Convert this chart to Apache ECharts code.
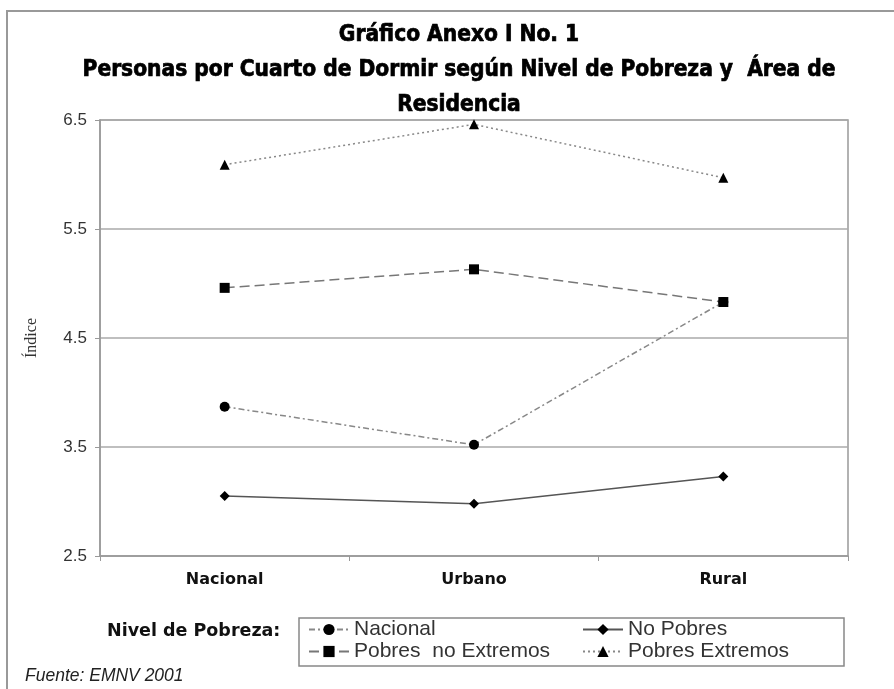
<!DOCTYPE html>
<html>
<head>
<meta charset="utf-8">
<script src="https://cdn.jsdelivr.net/npm/echarts@6/dist/echarts.min.js"></script>
<style>
html,body{margin:0;padding:0;background:#fff;}
#chart{width:894px;height:689px;}
</style>
</head>
<body>
<div id="chart"></div>
<script>
const categories = ['Nacional', 'Urbano', 'Rural'];
const seriesNames = ['Nacional', 'No Pobres', 'Pobres  no Extremos', 'Pobres Extremos'];
const nacional = [3.87, 3.52, 4.83];
const noPobres = [3.05, 2.98, 3.23];
const pobresNoExtremos = [4.96, 5.13, 4.83];
const pobresExtremos = [6.09, 6.46, 5.97];
const yTicks = [2.5, 3.5, 4.5, 5.5, 6.5];
const titleLines = ['Gráfico Anexo I No. 1', 'Personas por Cuarto de Dormir según Nivel de Pobreza y  Área de', 'Residencia'];

const chart = echarts.init(document.getElementById('chart'));
const titleFont = "'DejaVu Sans Condensed', 'Liberation Sans Narrow', sans-serif";
const legendText = {fontFamily: "'Liberation Sans', Arial, sans-serif", fontSize: 21, color: '#333'};

function mk(name, data, symbol, lineType, lineColor) {
  return {
    name: name, type: 'line', data: data, symbol: symbol, symbolSize: 10,
    itemStyle: {color: '#000'},
    lineStyle: {color: lineColor, width: 1.5, type: lineType},
    emphasis: {disabled: true}, animation: false
  };
}

const titleY = [35, 70, 105];
const titleGraphics = titleLines.map((t, i) => ({
  type: 'text', x: 459, y: titleY[i], silent: true,
  style: {text: t, fontFamily: titleFont, fontWeight: 'bold', fontSize: 22.5, fill: '#000',
    stroke: '#000', lineWidth: 0.7, align: 'center', verticalAlign: 'middle'}
}));

chart.setOption({
  animation: false,
  backgroundColor: '#fff',
  grid: {left: 100, right: 46, top: 120, bottom: 133, show: true, borderColor: '#999', borderWidth: 1.5},
  xAxis: {
    type: 'category', data: categories, boundaryGap: true,
    axisLine: {lineStyle: {color: '#999', width: 1.5}},
    axisTick: {show: true, length: 5, lineStyle: {color: '#999'}},
    axisLabel: {fontFamily: "'DejaVu Sans', sans-serif", fontWeight: 'bold', fontSize: 16, color: '#111', margin: 16}
  },
  yAxis: {
    type: 'value', min: yTicks[0], max: yTicks[yTicks.length - 1], interval: 1,
    name: 'Índice', nameLocation: 'middle', nameGap: 60, nameRotate: 90,
    nameTextStyle: {fontFamily: "'Liberation Serif', 'Times New Roman', serif", fontSize: 16, color: '#333'},
    axisLine: {show: true, lineStyle: {color: '#999', width: 1.5}},
    axisTick: {show: true, length: 5, lineStyle: {color: '#999'}},
    axisLabel: {fontFamily: "'Liberation Sans', Arial, sans-serif", fontSize: 17, color: '#333', margin: 13,
      formatter: v => v.toFixed(1)},
    splitLine: {lineStyle: {color: '#aaa', width: 1.5}}
  },
  legend: [
    {data: [seriesNames[0], seriesNames[2]], orient: 'vertical', left: 308, top: 619, padding: 0,
     itemWidth: 40, itemHeight: 14, itemGap: 1, textStyle: legendText, selectedMode: false},
    {data: [seriesNames[1], seriesNames[3]], orient: 'vertical', left: 582, top: 619, padding: 0,
     itemWidth: 40, itemHeight: 14, itemGap: 1, textStyle: legendText, selectedMode: false}
  ],
  graphic: [
    {type: 'rect', shape: {x: 7, y: 11, width: 910, height: 700}, style: {fill: 'none', stroke: '#999', lineWidth: 2}, silent: true},
    {type: 'rect', shape: {x: 299, y: 618, width: 545, height: 48}, style: {fill: 'none', stroke: '#888', lineWidth: 1.5}, silent: true},
    {type: 'text', left: 107, top: 622, style: {text: 'Nivel de Pobreza:', fontFamily: "'DejaVu Sans', sans-serif", fontWeight: 'bold', fontSize: 17.5, fill: '#111'}},
    {type: 'text', left: 25, top: 667, style: {text: 'Fuente: EMNV 2001', fontFamily: "'Liberation Sans', Arial, sans-serif", fontStyle: 'italic', fontSize: 17.5, fill: '#222'}}
  ].concat(titleGraphics),
  series: [
    mk(seriesNames[0], nacional, 'circle', [6, 3, 2, 3], '#888'),
    mk(seriesNames[1], noPobres, 'diamond', 'solid', '#555'),
    mk(seriesNames[2], pobresNoExtremos, 'rect', [10, 5], '#777'),
    mk(seriesNames[3], pobresExtremos, 'triangle', [2, 3], '#888')
  ]
});
</script>
</body>
</html>
